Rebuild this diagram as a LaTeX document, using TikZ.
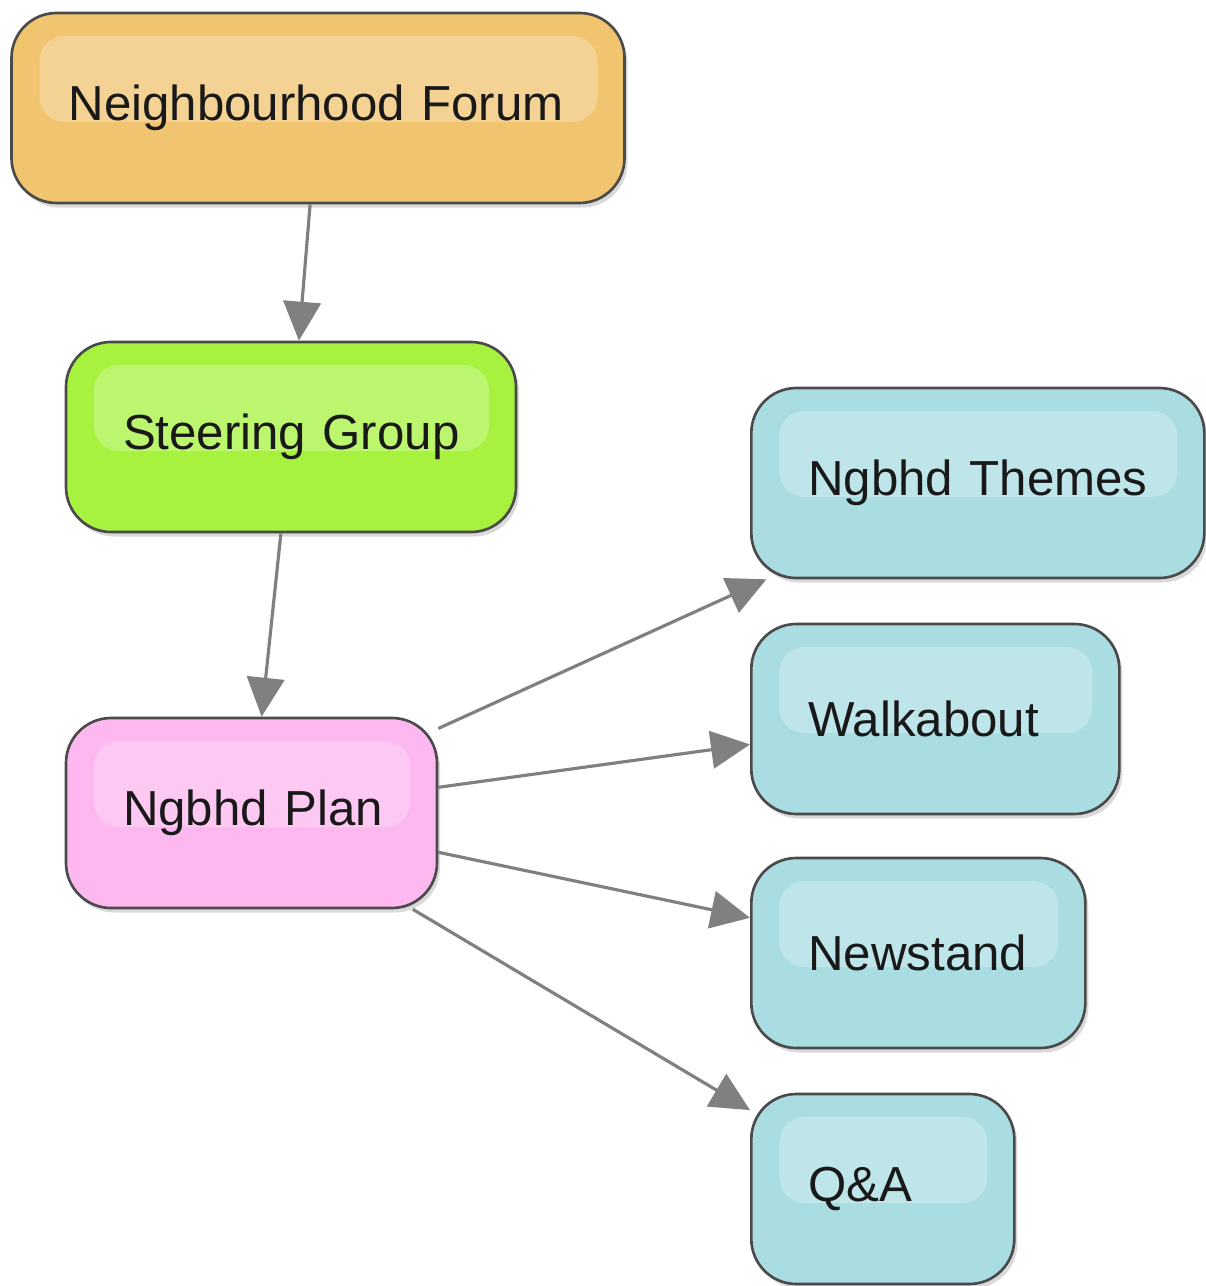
\documentclass[tikz,border=0pt]{standalone}
\usepackage{fontspec}
\setmainfont{Liberation Sans}
\usetikzlibrary{arrows.meta, calc, shadows}

\definecolor{forumfill}{HTML}{F1C46F}
\definecolor{steerfill}{HTML}{A6F23E}
\definecolor{planfill}{HTML}{FDB8EF}
\definecolor{taskfill}{HTML}{A9DDE2}
\definecolor{boxline}{HTML}{4A4A4A}
\definecolor{linkgray}{HTML}{808080}

\begin{document}
\begin{tikzpicture}[font=\fontsize{28}{34}\selectfont, box/.style={draw=boxline, line width=1.5pt, rounded corners=0.9cm, minimum height=3.8cm, inner xsep=1.14cm, align=left, text width=#1, text=black!90, drop shadow={shadow xshift=0.06cm, shadow yshift=-0.09cm, opacity=0.3}, path picture={\fill[white, opacity=0.25, rounded corners=0.5cm] ($(path picture bounding box.north west)+(0.56,-0.46)$) rectangle ($(path picture bounding box.east)+(-0.54,-0.28)$);}}, link/.style={draw=linkgray, line width=1.8pt, -{Triangle[length=0.78cm, width=0.75cm]}}]
\useasboundingbox (0,0) rectangle (24.1,-25.72);
\node[box=9.98cm, fill=forumfill] (forum) at (6.36,-2.16) {\mbox{Neighbourhood Forum}};
\node[box=6.72cm, fill=steerfill] (steering) at (5.82,-8.74) {\mbox{Steering Group}};
\node[box=5.14cm, fill=planfill] (plan) at (5.03,-16.26) {\mbox{Ngbhd Plan}};
\foreach \nm/\lab/\y/\w in {themes/Ngbhd Themes/-9.66/6.78cm, walk/Walkabout/-14.38/5.08cm, news/Newstand/-19.06/4.40cm, qa/Q\&A/-23.78/2.98cm}{\node[box=\w, fill=taskfill, anchor=west] (\nm) at (15.0,\y) {\mbox{\lab}};}
\draw[link] (forum) -- (steering);
\draw[link] (steering) -- (plan);
\foreach \nm in {themes,walk,news,qa}{\draw[link] (plan) -- (\nm);}
\end{tikzpicture}
\end{document}
